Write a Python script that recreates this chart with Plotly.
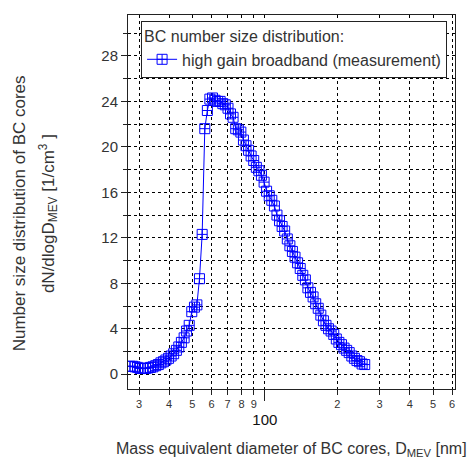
import math
import plotly.graph_objects as go

# Mass equivalent diameter (nm) and dN/dlogD (1/cm^3)
diameter_nm = [
    27.5, 28.2, 28.9, 29.6, 30.3, 31.1, 31.9, 32.7, 33.5, 34.3,
    35.2, 36.1, 37.0, 37.9, 38.8, 39.8, 40.8, 41.8, 42.9, 43.9,
    45.0, 46.2, 47.3, 48.5, 49.7, 51.0, 52.2, 53.5, 54.9, 56.3,
    57.7, 59.1, 60.6, 62.1, 63.7, 65.2, 66.9, 68.5, 70.3, 72.0,
    73.8, 75.7, 77.6, 79.5, 81.5, 83.5, 85.6, 87.7, 89.9, 92.2,
    94.5, 96.8, 99.3, 101.7, 104.3, 106.9, 109.6, 112.3, 115.1, 118.0,
    120.9, 124.0, 127.1, 130.2, 133.5, 136.8, 140.3, 143.8, 147.4, 151.0,
    154.8, 158.7, 162.7, 166.7, 170.9, 175.2, 179.5, 184.0, 188.6, 193.4,
    198.2, 203.1, 208.2, 213.4, 218.8, 224.2, 229.9, 235.6, 241.5, 247.5,
    253.7, 260.1,
]
dN_dlogD = [
    0.7, 0.7, 0.65, 0.6, 0.5, 0.5, 0.5, 0.55, 0.6, 0.65,
    0.75, 0.85, 1.0, 1.1, 1.25, 1.4, 1.6, 1.8, 2.1, 2.4,
    2.8, 3.2, 3.8, 4.3, 5.5, 5.9, 6.1, 8.4, 12.3, 21.6,
    23.2, 24.2, 24.3, 24.1, 24.0, 24.0, 23.8, 23.7, 23.4, 22.9,
    22.6, 21.6, 21.5, 21.3, 20.6, 20.1, 19.7, 19.2, 18.8, 18.2,
    17.9, 17.5, 16.9, 16.1, 15.7, 15.3, 14.8, 14.0, 13.5, 13.0,
    12.6, 11.9, 11.3, 10.8, 10.3, 9.8, 9.3, 8.7, 8.3, 7.6,
    7.2, 6.8, 6.2, 5.8, 5.2, 4.7, 4.3, 4.0, 3.8, 3.5,
    3.1, 2.8, 2.6, 2.3, 2.1, 1.9, 1.6, 1.4, 1.2, 1.1,
    0.9, 0.85,
]

x_tickvals = [30, 40, 50, 60, 70, 80, 90, 100, 200, 300, 400, 500, 600]
x_ticktext = ["3", "4", "5", "6", "7", "8", "9", "", "2", "3", "4", "5", "6"]
y_tickvals = [0, 4, 8, 12, 16, 20, 24, 28]
y_ticktext = ["0", "4", "8", "12", "16", "20", "24", "28"]

FONT = "Liberation Sans, Arial, sans-serif"
TXT = "#333333"
BLUE = "#0000ff"

xrange_log = [math.log10(27.0), math.log10(617.0)]

fig = go.Figure()
fig.add_trace(go.Scatter(
    x=diameter_nm, y=dN_dlogD, mode="lines+markers",
    name="high gain broadband (measurement)",
    line=dict(color=BLUE, width=1),
    marker=dict(symbol="square-cross-open", size=10, color=BLUE,
                line=dict(color=BLUE, width=1)),
))
# helper trace so the "100" decade axis is drawn
fig.add_trace(go.Scatter(x=[100], y=[None], xaxis="x2", yaxis="y",
                         showlegend=False, hoverinfo="skip", mode="markers"))

fig.update_layout(
    width=474, height=459,
    margin=dict(l=128, r=19, t=15, b=70),
    paper_bgcolor="white", plot_bgcolor="white",
    font=dict(family=FONT, color=TXT),
    showlegend=True,
    legend=dict(
        x=0.04, y=0.985, xanchor="left", yanchor="top",
        bgcolor="white", bordercolor="#222222", borderwidth=1,
        font=dict(size=16, color=TXT, family=FONT),
        title=dict(text="BC number size distribution:",
                   font=dict(size=16, color=TXT, family=FONT), side="top"),
        tracegroupgap=0,
    ),
    xaxis=dict(
        type="log", range=xrange_log,
        tickmode="array", tickvals=x_tickvals, ticktext=x_ticktext,
        ticks="outside", ticklen=5, tickcolor="#222222",
        tickfont=dict(size=11, color=TXT),
        showgrid=True, gridcolor="#000000", griddash="dot", gridwidth=1,
        showline=True, linecolor="#222222", linewidth=1, mirror=True,
        zeroline=False,
    ),
    xaxis2=dict(
        type="log", range=xrange_log, overlaying="x", anchor="y", side="bottom",
        tickmode="array", tickvals=[100], ticktext=["100"],
        ticks="outside", ticklen=11, tickcolor="#222222",
        tickfont=dict(size=15, color="#111111"), ticklabelstandoff=6,
        showgrid=False, showline=False, zeroline=False,
    ),
    yaxis=dict(
        range=[-1.3, 31.6],
        tickmode="array", tickvals=y_tickvals, ticktext=y_ticktext,
        ticks="outside", ticklen=6, tickcolor="#222222",
        tickfont=dict(size=15, color=TXT),
        showgrid=True, gridcolor="#000000", griddash="dot", gridwidth=1,
        minor=dict(tickmode="array", tickvals=[2, 6, 10, 14, 18, 22, 26, 30],
                   ticks="outside", ticklen=4, tickcolor="#222222",
                   showgrid=True, gridcolor="#000000", griddash="dot", gridwidth=1),
        showline=True, linecolor="#222222", linewidth=1, mirror=True,
        zeroline=False,
    ),
    annotations=[
        dict(text="Mass equivalent diameter of BC cores, D<sub>MEV</sub> [nm]",
             xref="paper", yref="paper", x=0.5, y=-0.163,
             xanchor="center", yanchor="middle", showarrow=False,
             font=dict(size=16, color=TXT, family=FONT)),
        dict(text="Number size distribution of BC cores",
             xref="paper", yref="paper", x=-0.333, y=0.47,
             xanchor="center", yanchor="middle", showarrow=False, textangle=-90,
             font=dict(size=17, color=TXT, family=FONT)),
        dict(text="dN/dlogD<sub>MEV</sub> [1/cm<sup>3</sup> ]",
             xref="paper", yref="paper", x=-0.245, y=0.47,
             xanchor="center", yanchor="middle", showarrow=False, textangle=-90,
             font=dict(size=17, color=TXT, family=FONT)),
    ],
)

fig.write_html("out.html")
